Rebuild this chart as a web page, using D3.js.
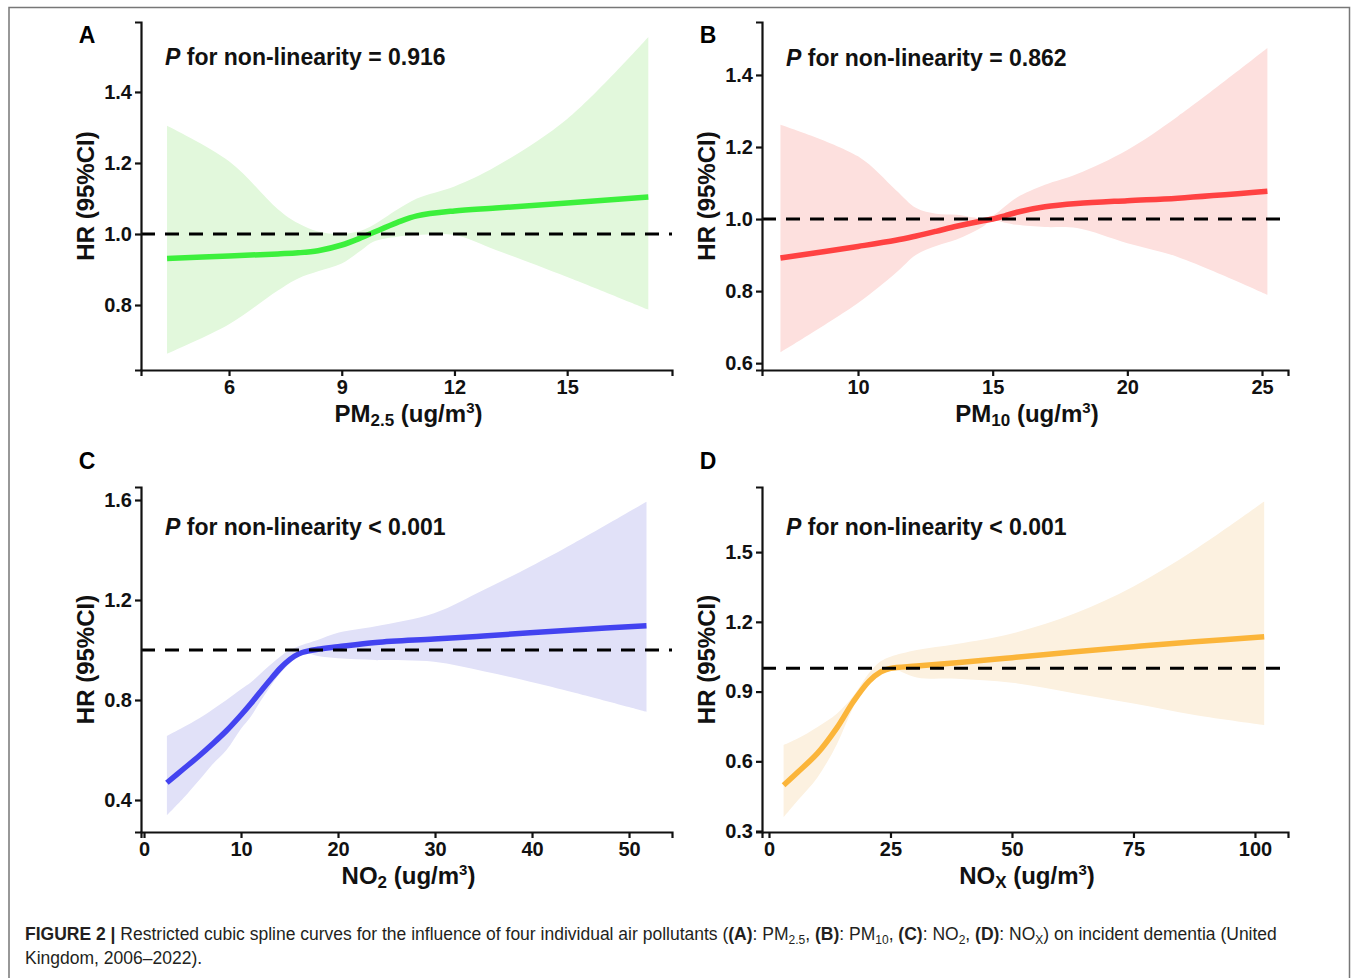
<!DOCTYPE html>
<html>
<head>
<meta charset="utf-8">
<script src="https://cdn.jsdelivr.net/npm/d3@7"></script>
<style>
  body { margin: 0; background: #fff; }
  svg { display: block; }
</style>
</head>
<body>
<svg id="chart"></svg>
<script>
// ---- data ----
// A: PM2.5
const pm25X     = [4.35, 6, 7.3, 7.84, 8.37, 9, 9.53, 9.84, 10.47, 11, 12, 13.1, 15, 17.16];
const pm25HR    = [0.931, 0.938, 0.944, 0.947, 0.953, 0.969, 0.99, 1.004, 1.032, 1.051, 1.065, 1.073, 1.087, 1.104];
const pm25Upper = [1.305, 1.205, 1.07, 1.03, 1.007, 1.0, 1.01, 1.025, 1.068, 1.10, 1.134, 1.19, 1.324, 1.555];
const pm25Lower = [0.663, 0.746, 0.841, 0.875, 0.895, 0.917, 0.955, 0.978, 0.992, 0.997, 0.997, 0.955, 0.879, 0.787];

// B: PM10
const pm10X     = [7.12, 10, 11.4, 12.16, 12.9, 13.66, 14.55, 15, 15.45, 15.9, 16.94, 18.13, 20, 21.87, 25.2];
const pm10HR    = [0.892, 0.924, 0.941, 0.953, 0.966, 0.980, 0.994, 1.0, 1.009, 1.019, 1.034, 1.043, 1.051, 1.058, 1.077];
const pm10Upper = [1.262, 1.174, 1.081, 1.031, 1.015, 1.012, 1.003, 1.01, 1.035, 1.06, 1.095, 1.125, 1.192, 1.285, 1.475];
const pm10Lower = [0.630, 0.767, 0.850, 0.901, 0.925, 0.943, 0.975, 0.996, 0.99, 0.984, 0.978, 0.975, 0.933, 0.895, 0.790];

// C: NO2
const no2X     = [2.36, 4, 5.7, 7, 8.5, 10, 11, 12, 13, 14, 14.6, 15.5, 16.3, 17.9, 20, 23.9, 29.9, 35, 39.8, 44.3, 51.8];
const no2HR    = [0.469, 0.522, 0.577, 0.622, 0.677, 0.740, 0.785, 0.833, 0.880, 0.925, 0.948, 0.975, 0.990, 1.003, 1.013, 1.030, 1.044, 1.056, 1.069, 1.08, 1.097];
const no2Upper = [0.656, 0.690, 0.727, 0.760, 0.80, 0.843, 0.87, 0.905, 0.94, 0.972, 0.99, 1.008, 1.02, 1.04, 1.069, 1.095, 1.147, 1.24, 1.333, 1.427, 1.593];
const no2Lower = [0.339, 0.405, 0.48, 0.54, 0.60, 0.685, 0.733, 0.795, 0.853, 0.905, 0.93, 0.965, 0.99, 0.976, 0.967, 0.96, 0.953, 0.915, 0.873, 0.83, 0.753];

// D: NOx
const noxX     = [3, 5.9, 10, 14, 17.3, 20.6, 23, 25, 30.4, 38.6, 50, 63, 75, 87.6, 101.9];
const noxHR    = [0.497, 0.553, 0.635, 0.745, 0.855, 0.945, 0.985, 1.0, 1.01, 1.024, 1.046, 1.071, 1.093, 1.114, 1.136];
const noxUpper = [0.67, 0.698, 0.748, 0.806, 0.88, 0.98, 1.03, 1.05, 1.079, 1.105, 1.15, 1.237, 1.352, 1.51, 1.718];
const noxLower = [0.359, 0.431, 0.532, 0.675, 0.83, 0.95, 0.99, 1.0, 0.961, 0.955, 0.938, 0.892, 0.849, 0.799, 0.756];

// tick values
const pm25XTicks = [6, 9, 12, 15];
const pm25YTicks = [0.8, 1.0, 1.2, 1.4];
const pm10XTicks = [10, 15, 20, 25];
const pm10YTicks = [0.6, 0.8, 1.0, 1.2, 1.4];
const no2XTicks  = [0, 10, 20, 30, 40, 50];
const no2YTicks  = [0.4, 0.8, 1.2, 1.6];
const noxXTicks  = [0, 25, 50, 75, 100];
const noxYTicks  = [0.3, 0.6, 0.9, 1.2, 1.5];

const panels = [
  { label: "A", labelY: 43, x: pm25X, hr: pm25HR, up: pm25Upper, lo: pm25Lower, xTicks: pm25XTicks, yTicks: pm25YTicks,
    xDom: [3.657, 17.79], yDom: [0.617, 1.597], box: [141, 672, 22, 370],
    line: "#3cf03c", band: "#e2f8dc", p: "= 0.916", pY: 65, title: ["PM", "2.5"] },
  { label: "B", labelY: 43, x: pm10X, hr: pm10HR, up: pm10Upper, lo: pm10Lower, xTicks: pm10XTicks, yTicks: pm10YTicks,
    xDom: [6.435, 25.965], yDom: [0.581, 1.547], box: [762, 1288, 22, 370],
    line: "#ff4242", band: "#fde0de", p: "= 0.862", pY: 66, title: ["PM", "10"] },
  { label: "C", labelY: 469, x: no2X, hr: no2HR, up: no2Upper, lo: no2Lower, xTicks: no2XTicks, yTicks: no2YTicks,
    xDom: [-0.31, 54.43], yDom: [0.272, 1.652], box: [141, 672, 487, 832],
    line: "#4343f0", band: "#e1e1f8", p: "< 0.001", pY: 535, title: ["NO", "2"] },
  { label: "D", labelY: 469, x: noxX, hr: noxHR, up: noxUpper, lo: noxLower, xTicks: noxXTicks, yTicks: noxYTicks,
    xDom: [-1.44, 106.8], yDom: [0.296, 1.78], box: [762, 1288, 487, 832],
    line: "#fbb53a", band: "#fcf1e0", p: "< 0.001", pY: 535, title: ["NO", "X"] }
];

const width = 1357, height = 978;
const svg = d3.select("#chart").attr("width", width).attr("height", height);
const font = '"Liberation Sans", Arial, sans-serif';

// outer frame
svg.append("path")
  .attr("d", "M9,990 V7.5 H1349.5 V990")
  .attr("fill", "none").attr("stroke", "#777").attr("stroke-width", 1.5);

panels.forEach(p => {
  const [l, r, t, b] = p.box;
  const x = d3.scaleLinear().domain(p.xDom).range([l, r]);
  const y = d3.scaleLinear().domain(p.yDom).range([b, t]);
  const g = svg.append("g");
  const rows = p.x.map((v, i) => ({ x: v, hr: p.hr[i], up: p.up[i], lo: p.lo[i] }));
  const curve = d3.curveCatmullRom.alpha(0.5);

  g.append("path").datum(rows)
    .attr("fill", p.band)
    .attr("d", d3.area().curve(curve).x(d => x(d.x)).y0(d => y(d.lo)).y1(d => y(d.up)));

  g.append("path").datum(rows)
    .attr("fill", "none").attr("stroke", p.line).attr("stroke-width", 5.5)
    .attr("d", d3.line().curve(curve).x(d => x(d.x)).y(d => y(d.hr)));

  // reference line at HR = 1
  g.append("line")
    .attr("x1", l).attr("x2", r).attr("y1", y(1)).attr("y2", y(1))
    .attr("stroke", "#000").attr("stroke-width", 3).attr("stroke-dasharray", "14,10");

  const xa = g.append("g").attr("transform", `translate(0,${b})`)
    .call(d3.axisBottom(x).tickValues(p.xTicks).tickSize(6).tickPadding(4).tickFormat(d3.format("d")));
  const ya = g.append("g").attr("transform", `translate(${l},0)`)
    .call(d3.axisLeft(y).tickValues(p.yTicks).tickSize(6).tickPadding(3).tickFormat(d3.format(".1f")));
  [xa, ya].forEach(a => {
    a.select(".domain").attr("stroke", "#111").attr("stroke-width", 2.2);
    a.selectAll(".tick line").attr("stroke", "#111").attr("stroke-width", 2.2);
    a.selectAll(".tick text").attr("fill", "#111")
      .style("font-family", font).style("font-weight", "bold").style("font-size", "20px");
  });

  // panel letter
  g.append("text").attr("x", l - 54).attr("y", p.labelY)
    .attr("text-anchor", "middle")
    .style("font-family", font).style("font-weight", "bold").style("font-size", "23px")
    .text(p.label);

  // non-linearity note
  const note = g.append("text").attr("x", l + 24).attr("y", p.pY)
    .style("font-family", font).style("font-weight", "bold").style("font-size", "23px").attr("fill", "#111");
  note.append("tspan").style("font-style", "italic").text("P");
  note.append("tspan").text(" for non-linearity " + p.p);

  // y title
  g.append("text")
    .attr("transform", `translate(${l - 47},${(t + b) / 2}) rotate(-90)`)
    .attr("text-anchor", "middle")
    .style("font-family", font).style("font-weight", "bold").style("font-size", "24px").attr("fill", "#111")
    .text("HR (95%CI)");

  // x title
  const xt = g.append("text")
    .attr("x", (l + r) / 2 + 2).attr("y", b + 52)
    .attr("text-anchor", "middle")
    .style("font-family", font).style("font-weight", "bold").style("font-size", "24px").attr("fill", "#111");
  xt.append("tspan").text(p.title[0]);
  xt.append("tspan").attr("dy", 4).style("font-size", "17px").text(p.title[1]);
  xt.append("tspan").attr("dy", -4).text(" (ug/m");
  xt.append("tspan").attr("dy", -9).style("font-size", "15px").text("3");
  xt.append("tspan").attr("dy", 9).text(")");
});

// caption
const cap = svg.append("text").attr("x", 25).attr("y", 940)
  .style("font-family", font).style("font-size", "17.5px").attr("fill", "#231f20");
const parts = [
  ["b", "FIGURE 2 | "], ["", "Restricted cubic spline curves for the influence of four individual air pollutants ("],
  ["b", "(A)"], ["", ": PM"], ["sub", "2.5"], ["", ", "], ["b", "(B)"], ["", ": PM"], ["sub", "10"], ["", ", "],
  ["b", "(C)"], ["", ": NO"], ["sub", "2"], ["", ", "], ["b", "(D)"], ["", ": NO"], ["sub", "X"],
  ["", ") on incident dementia (United"]
];
let lastSub = false;
parts.forEach(([k, s]) => {
  const ts = cap.append("tspan").text(s);
  if (k === "b") ts.style("font-weight", "bold");
  if (k === "sub") { ts.attr("dy", 4).style("font-size", "12px"); lastSub = true; }
  else if (lastSub) { ts.attr("dy", -4); lastSub = false; }
});
svg.append("text").attr("x", 25).attr("y", 964)
  .style("font-family", font).style("font-size", "17.5px").attr("fill", "#231f20")
  .text("Kingdom, 2006\u20132022).");
</script>
</body>
</html>
